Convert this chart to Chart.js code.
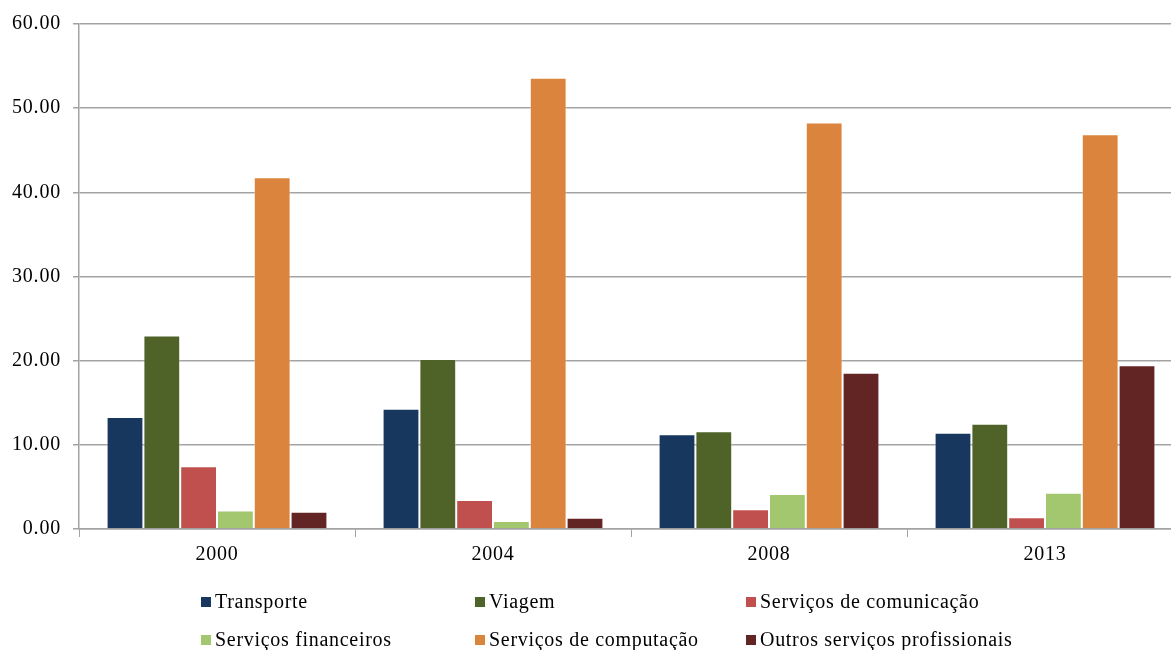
<!DOCTYPE html>
<html>
<head>
<meta charset="utf-8">
<script src="https://cdn.jsdelivr.net/npm/chart.js@4/dist/chart.umd.min.js"></script>
<style>
  html, body { margin: 0; padding: 0; background: #ffffff; overflow: hidden; }
  #wrap { width: 1183px; height: 650px; }
</style>
</head>
<body>
<div id="wrap"><canvas id="chart" width="1183" height="650"></canvas></div>
<script>
// Anos
const categories = ['2000', '2004', '2008', '2013'];

// Participação por tipo de serviço (%)
const transporte   = [13.3, 14.3, 11.25, 11.45];
const viagem       = [23.0, 20.2, 11.6, 12.5];
const comunicacao  = [7.45, 3.45, 2.35, 1.4];
const financeiros  = [2.2, 0.95, 4.15, 4.3];
const computacao   = [41.8, 53.6, 48.3, 46.9];
const outros       = [2.05, 1.35, 18.55, 19.45];

const seriesLabels = [
  'Transporte', 'Viagem', 'Serviços de comunicação',
  'Serviços financeiros', 'Serviços de computação', 'Outros serviços profissionais'
];
const seriesValues = [transporte, viagem, comunicacao, financeiros, computacao, outros];
const seriesColors = ['#17375E', '#4F6228', '#C0504D', '#A2C76E', '#DB843D', '#632523'];

// Y axis tick values
const yTicks = [0, 10, 20, 30, 40, 50, 60];

const FONT = '"Liberation Serif", "Times New Roman", serif';
const GRID = '#a3a3a3';

// Slightly looser letter spacing for all chart text
const textSpacing = {
  id: 'textSpacing',
  beforeDraw(chart) { chart.ctx.letterSpacing = '0.8px'; }
};

// Legend drawn as a 3-column grid under the plot
const gridLegend = {
  id: 'gridLegend',
  afterDraw(chart) {
    const ctx = chart.ctx;
    const cols = [201, 475, 746];
    const rows = [602, 640];
    ctx.save();
    ctx.letterSpacing = '0.7px';
    ctx.font = '20px ' + FONT;
    ctx.textBaseline = 'middle';
    ctx.textAlign = 'left';
    chart.data.datasets.forEach((ds, i) => {
      const x = cols[i % 3];
      const y = rows[Math.floor(i / 3)];
      ctx.fillStyle = ds.backgroundColor;
      ctx.fillRect(x, y - 5, 10, 10);
      ctx.fillStyle = '#000000';
      ctx.fillText(ds.label, x + 14, y + 1);
    });
    ctx.restore();
  }
};

new Chart(document.getElementById('chart'), {
  type: 'bar',
  data: {
    labels: categories,
    datasets: seriesLabels.map((label, i) => ({
      label: label,
      data: seriesValues[i],
      backgroundColor: seriesColors[i],
      borderColor: 'rgba(255,255,255,0.35)',
      borderWidth: 1,
      categoryPercentage: 0.8,
      barPercentage: 1.0
    }))
  },
  options: {
    responsive: false,
    animation: false,
    layout: { padding: { top: 24, right: 0, bottom: 0, left: 0 } },
    plugins: {
      legend: { display: false },
      tooltip: { enabled: false }
    },
    scales: {
      x: {
        afterFit(scale) { scale.height = 121; },
        grid: {
          display: true,
          drawOnChartArea: false,
          drawTicks: true,
          tickLength: 8,
          color: GRID,
          offset: true
        },
        border: { display: true, color: GRID, width: 1.5 },
        ticks: {
          color: '#000000',
          padding: 6,
          font: { family: FONT, size: 20 }
        }
      },
      y: {
        min: 0,
        max: 60,
        afterFit(scale) { scale.width = 79; },
        afterBuildTicks(scale) { scale.ticks = yTicks.map(v => ({ value: v })); },
        grid: {
          color: GRID,
          lineWidth: 1.5,
          drawTicks: true,
          tickLength: 6
        },
        border: { display: true, color: GRID, width: 1.5 },
        ticks: {
          color: '#000000',
          padding: 12,
          font: { family: FONT, size: 20 },
          callback: (v) => Number(v).toFixed(2)
        }
      }
    }
  },
  plugins: [textSpacing, gridLegend]
});
</script>
</body>
</html>
